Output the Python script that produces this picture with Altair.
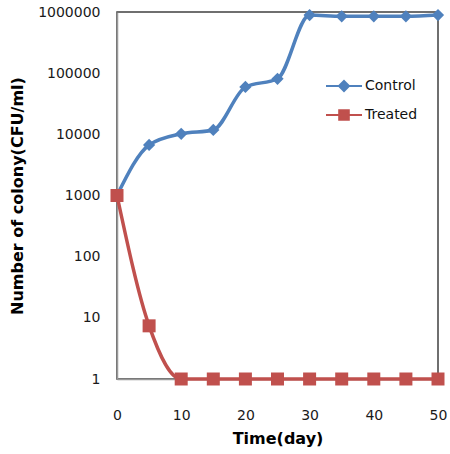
import altair as alt
import pandas as pd

days = [0, 5, 10, 15, 20, 25, 30, 35, 40, 45, 50]
control = [1000, 6700, 10200, 11800, 59500, 81000, 890000, 850000, 850000, 850000, 890000]
treated = [1000, 7.4, 1, 1, 1, 1, 1, 1, 1, 1, 1]
series_names = ["Control", "Treated"]
series_colors = ["#4F81BD", "#C0504D"]
x_ticks = [0, 10, 20, 30, 40, 50]
y_ticks = [1, 10, 100, 1000, 10000, 100000, 1000000]

df = pd.DataFrame(
    {"day": days * 2,
     "cfu": control + treated,
     "series": ["Control"] * len(days) + ["Treated"] * len(days)}
)

FONT = "DejaVu Sans"
x_enc = alt.X("day:Q", scale=alt.Scale(domain=[0, 50], nice=False),
              axis=alt.Axis(values=x_ticks, title="Time(day)", grid=False, ticks=False,
                            tickSize=0, labelPadding=29, titlePadding=8, labelFlush=False))
y_enc = alt.Y("cfu:Q", scale=alt.Scale(type="log", domain=[1, 1000000], nice=False),
              axis=alt.Axis(values=y_ticks, format="d", title="Number of colony(CFU/ml)",
                            grid=False, ticks=False, tickSize=0, labelPadding=17,
                            titlePadding=12, labelFlush=False))
color_enc = alt.Color("series:N", scale=alt.Scale(domain=series_names, range=series_colors),
                      legend=None)

base = alt.Chart(df)

legend_paths = [
    "M-1.5,0H1.5M0,-0.42L0.42,0L0,0.42L-0.42,0Z",
    "M-1.5,0H1.5M-0.4,-0.4H0.4V0.4H-0.4Z",
]
leg = base.mark_point(filled=True, size=576, strokeWidth=2, opacity=0).encode(
    x=x_enc, y=y_enc,
    shape=alt.Shape("series:N", scale=alt.Scale(domain=series_names, range=legend_paths),
                    legend=alt.Legend(title=None, orient="none", legendX=214, legendY=61,
                                      labelFont=FONT, labelFontSize=14, labelColor="#111",
                                      labelOffset=8, rowPadding=6, padding=0,
                                      symbolSize=576, symbolOpacity=1, symbolStrokeWidth=2)),
    fill=alt.Fill("series:N", scale=alt.Scale(domain=series_names, range=series_colors)),
    stroke=alt.Stroke("series:N", scale=alt.Scale(domain=series_names, range=series_colors)),
)

lines = base.mark_line(interpolate="monotone", strokeWidth=3.5).encode(
    x="day:Q", y="cfu:Q", color=color_enc, detail="series:N")

pts_c = base.transform_filter(alt.datum.series == "Control").mark_point(
    shape="diamond", filled=True, size=150, opacity=1).encode(x="day:Q", y="cfu:Q", color=color_enc)
pts_t = base.transform_filter(alt.datum.series == "Treated").mark_square(
    size=169, opacity=1).encode(x="day:Q", y="cfu:Q", color=color_enc)

chart = alt.layer(leg, lines, pts_c, pts_t).properties(
    width=321, height=367,
    autosize=alt.AutoSizeParams(type="none"),
    padding={"left": 117, "top": 12, "right": 12, "bottom": 75},
).configure_view(stroke="#404040", strokeWidth=1.5).configure_axis(
    labelFont=FONT, labelFontSize=14, labelColor="#1a1a1a",
    titleFont=FONT, titleFontSize=16, titleFontWeight="bold", titleColor="#000",
    domainColor="#999999", domainWidth=1.5,
)

chart.save("out.html", embed_options={"renderer": "svg", "actions": False})
